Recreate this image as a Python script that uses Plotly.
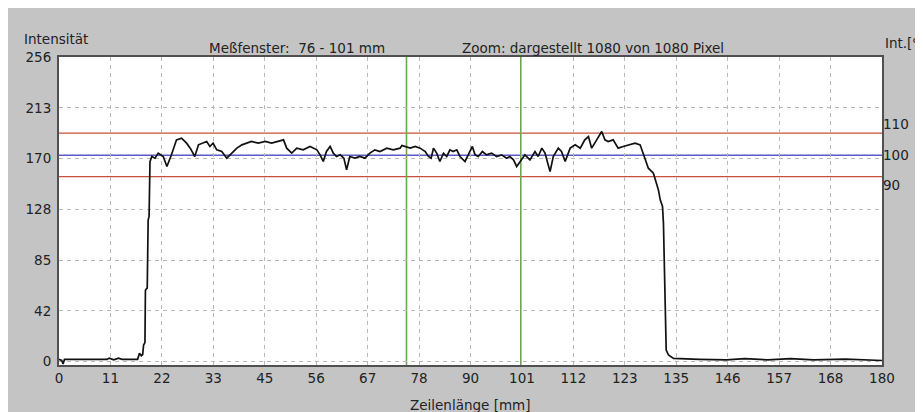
import plotly.graph_objects as go

# ---- data ----
pos_mm = [0, 0.6, 0.9, 1.2, 3, 10.5, 11, 12, 13, 13.8, 17.2, 17.6, 18.0, 18.3, 18.5, 18.8, 18.9, 19.3, 19.5, 19.7, 19.9,
          20.3, 21.0, 21.7, 22.8, 23.6, 24.6, 25.7, 26.8, 27.9, 28.7, 29.7, 30.5, 31.6, 32.3, 33.0, 33.7, 34.5, 35.6,
          36.7, 37.8, 38.9, 40.0, 41.1, 42.1, 43.6, 45.1, 46.5, 47.6, 49.1, 49.8, 50.9, 52.0, 53.4, 54.9, 56.4, 57.1,
          57.8, 58.5, 59.3, 60.0, 60.7, 61.5, 62.3, 62.9, 63.6, 64.7, 65.8, 66.9, 68.0, 69.1, 70.2, 71.7, 73.1, 74.6,
          75.0, 76.8, 77.9, 79.0, 80.1, 80.8, 81.4, 81.9, 82.6, 83.3, 84.1, 84.8, 85.5, 86.2, 87.0, 87.7, 88.8, 89.5,
          90.4, 91.0, 91.7, 92.6, 93.5, 94.6, 95.7, 96.8, 97.9, 98.6, 99.4, 100.1, 100.8, 101.9, 103.0, 104.1, 104.8,
          105.6, 106.3, 107.4, 108.1, 109.2, 109.9, 110.7, 111.8, 112.9, 114.0, 115.0, 115.8, 116.5, 117.6, 118.7,
          119.4, 120.1, 121.2, 122.3, 123.4, 124.5, 126.0, 127.1, 128.2, 128.9, 130.0, 131.1, 131.5, 132.0, 132.2,
          132.5, 132.8, 133.3, 134.4, 140, 146, 150, 155, 160, 165, 172, 180]
intensity = [2, 1, -2, 2, 2, 2, 3, 1.5, 3, 2, 2, 7, 5, 6, 14, 16, 60, 62, 119, 122, 168,
             172.4, 171, 175.2, 172.4, 164, 173.8, 186.4, 187.8, 183.6, 179.4, 172.4, 182.2, 183.6, 185, 180.8, 183.6,
             178, 176.6, 171, 175.2, 179.4, 182.2, 183.6, 185, 183.6, 185, 183.6, 185, 186.4, 179.4, 175.2, 179.4, 178,
             180.8, 178, 173.8, 168.2, 176.6, 180.8, 175.2, 172.4, 173.8, 171, 161.2, 172.4, 171, 172.4, 171, 175.2,
             178, 176.6, 179.4, 178, 179.4, 181.6, 179.4, 180.8, 179.4, 176.6, 172.4, 171, 179.4, 175.2, 168.2, 175.2,
             172.4, 178, 176.6, 178, 172.4, 168.2, 173.8, 180.8, 173.8, 172.4, 176.6, 173.8, 175.2, 172.4, 173.8, 171,
             172.4, 169.6, 164, 168.2, 173.8, 169.6, 176.6, 172.4, 179.4, 175.2, 159.7, 172.4, 179.4, 176.6, 168.2,
             179.4, 182.2, 179.4, 186.4, 189.2, 179.4, 186.4, 193.4, 186.4, 185, 186.4, 179.4, 180.8, 182.2, 183.6,
             182.2, 171, 162.6, 158.4, 144.3, 136, 130.3, 116.3, 68.7, 9.8, 5.6, 2.8,
             2, 1.5, 2.5, 1.5, 2.5, 1.5, 2.2, 1]

x_ticks = [0, 11, 22, 33, 45, 56, 67, 78, 90, 101, 112, 123, 135, 146, 157, 168, 180]
y_ticks = [0, 42, 85, 128, 170, 213, 256]
pct_ticks = ["110", "100", "90"]
pct_tick_pos = [199.8, 173.8, 148.6]

ref_level = 173.5
upper_limit = 192.0
lower_limit = 155.5
window = [76, 101]

FONT = "DejaVu Sans"
GRAY = "#c4c4c4"
TS = 13.5

fig = go.Figure()
fig.add_trace(go.Scatter(x=pos_mm, y=intensity, mode="lines",
                         line=dict(color="#111111", width=1.7), showlegend=False, hoverinfo="skip"))
# invisible trace to activate the right axis
fig.add_trace(go.Scatter(x=[0], y=[0], yaxis="y2", mode="lines", line=dict(width=0),
                         showlegend=False, hoverinfo="skip"))

xt_vals = [i * 180 / 16 for i in range(17)]
yt_vals = [i * 256 / 6 for i in range(7)]

fig.update_layout(
    width=923, height=412,
    margin=dict(l=51, r=49, t=49, b=55),
    paper_bgcolor=GRAY, plot_bgcolor="white",
    font=dict(family=FONT, size=TS, color="#222222"),
    xaxis=dict(range=[0, 180], tickvals=xt_vals, ticktext=[str(v) for v in x_ticks],
               showgrid=True, gridcolor="#b8b8b8", griddash="4px,4px", gridwidth=1,
               showline=True, mirror=True, linecolor="#505050", linewidth=2,
               ticks="", zeroline=False, tickfont=dict(size=TS)),
    yaxis=dict(range=[-2.8, 256], tickvals=yt_vals, ticktext=[str(v) for v in y_ticks],
               showgrid=True, gridcolor="#b8b8b8", griddash="4px,4px", gridwidth=1,
               showline=True, mirror=True, linecolor="#505050", linewidth=2,
               ticks="", zeroline=False, tickfont=dict(size=TS), ticklabelstandoff=3),
    yaxis2=dict(range=[-2.8, 256], overlaying="y", side="right", tickvals=pct_tick_pos,
                ticktext=pct_ticks, showgrid=False, zeroline=False, showline=False, ticks="",
                tickfont=dict(size=TS)),
    annotations=[
        dict(text="Intensität", xref="paper", yref="paper", x=-0.045, y=1.058, xanchor="left",
             yanchor="middle", showarrow=False, font=dict(size=TS)),
        dict(text="Meßfenster:  76 - 101 mm", xref="paper", yref="paper", x=0.18, y=1.029,
             xanchor="left", yanchor="middle", showarrow=False, font=dict(size=TS)),
        dict(text="Zoom: dargestellt 1080 von 1080 Pixel", xref="paper", yref="paper", x=0.487,
             y=1.029, xanchor="left", yanchor="middle", showarrow=False, font=dict(size=TS)),
        dict(text="Int.[%", xref="paper", yref="paper", x=1.0012, y=1.045, xanchor="left",
             yanchor="middle", showarrow=False, font=dict(size=TS)),
        dict(text="Zeilenlänge [mm]", xref="paper", yref="paper", x=0.4994, y=-0.13,
             xanchor="center", yanchor="middle", showarrow=False, font=dict(size=TS)),
    ],
)

for lvl, col in [(upper_limit, "#c8503c"), (lower_limit, "#c8503c"), (ref_level, "#5a5ac8")]:
    fig.add_hline(y=lvl, line=dict(color=col, width=1.4), layer="below")
for w in window:
    fig.add_vline(x=w, line=dict(color="#6aa84f", width=1.6), layer="below")

fig.write_html("out.html")
